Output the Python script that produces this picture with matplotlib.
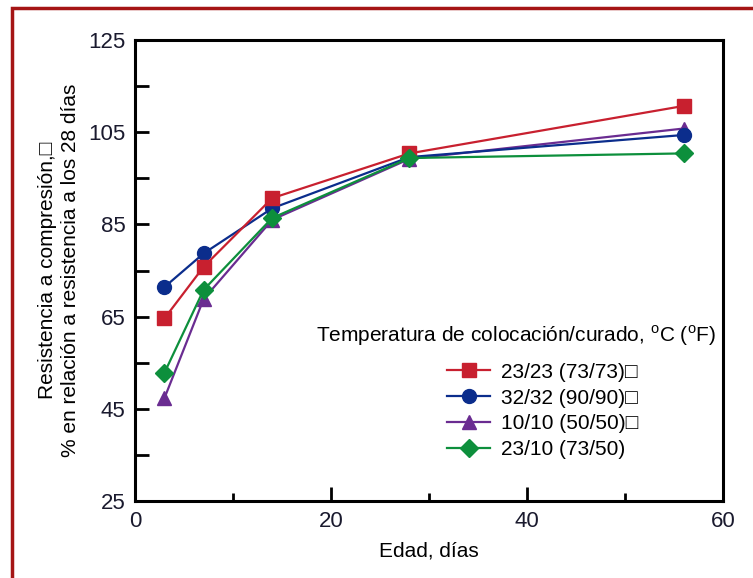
import matplotlib
matplotlib.use("Agg")
import matplotlib.pyplot as plt
from matplotlib.patches import Rectangle

plt.rcParams['font.family'] = ['Liberation Sans', 'DejaVu Sans']
plt.rcParams['mathtext.fontset'] = 'custom'
plt.rcParams['mathtext.rm'] = 'Liberation Sans'

# ==========================
# DATA
# ==========================
edad = [3, 7, 14, 28, 56]

series_labels = ["23/23 (73/73)\u25a1", "32/32 (90/90)\u25a1",
                 "10/10 (50/50)\u25a1", "23/10 (73/50)"]
r_23_23 = [64.6, 75.8, 90.7, 100.4, 110.7]
r_32_32 = [71.4, 78.7, 88.5, 99.6, 104.4]
r_10_10 = [47.3, 68.8, 86.0, 99.2, 105.8]
r_23_10 = [52.8, 70.8, 86.4, 99.4, 100.4]

colors = ["#c8202f", "#0b2d8c", "#6a2c91", "#0d8f3c"]
markers = ["s", "o", "^", "D"]
msizes = [10.5, 10, 10, 9]

x_ticks = [0, 20, 40, 60]
y_ticks = [25, 45, 65, 85, 105, 125]

# ==========================
# FIGURE
# ==========================
fig = plt.figure(figsize=(7.53, 5.78), dpi=100)
ax = fig.add_axes([0.1793, 0.1332, 0.7809, 0.7976])

valores = [r_23_23, r_32_32, r_10_10, r_23_10]
orden = [2, 1, 0, 3]
handles = [None] * 4
for i in orden:
    ln, = ax.plot(edad, valores[i], color=colors[i], marker=markers[i],
                  markersize=msizes[i], linewidth=1.6, label=series_labels[i])
    handles[i] = ln

ax.set_xlim(0, 60)
ax.set_ylim(25, 125)
ax.set_xticks(x_ticks)
ax.set_xticks([10, 30, 50], minor=True)
ax.set_yticks(y_ticks)
ax.set_yticks([35, 55, 75, 95, 115], minor=True)

ax.tick_params(axis='both', which='both', direction='in', width=2,
               labelsize=16, pad=7)
ax.tick_params(axis='x', which='major', length=10)
ax.tick_params(axis='x', which='minor', length=6)
ax.tick_params(axis='y', which='both', length=10)
for lbl in ax.get_xticklabels() + ax.get_yticklabels():
    lbl.set_color('#1a1a2e')

for s in ax.spines.values():
    s.set_linewidth(2.2)

ax.set_xlabel("Edad, días", fontsize=15, labelpad=7)
ax.set_ylabel("Resistencia a compresión,\u25a1\n% en relación a resistencia a los 28 días",
              fontsize=15, labelpad=6, linespacing=1.25)

# leyenda
ax.text(0.989, 0.358, "Temperatura de colocación/curado, $^{\\rm o}$C ($^{\\rm o}$F)",
        transform=ax.transAxes, ha='right', va='center', fontsize=15)
leg = ax.legend(handles=handles, loc='upper left', bbox_to_anchor=(0.53, 0.30),
                frameon=False, fontsize=15, handlelength=2.1, handletextpad=0.5,
                labelspacing=0.33, borderaxespad=0, borderpad=0)

# marco rojo
fig.patches.append(Rectangle((12 / 753, -0.1), 1.2, 1 - 8 / 578 + 0.1,
                             transform=fig.transFigure, fill=False,
                             edgecolor="#a51515", linewidth=2.5))

fig.savefig("out.png", dpi=100)
